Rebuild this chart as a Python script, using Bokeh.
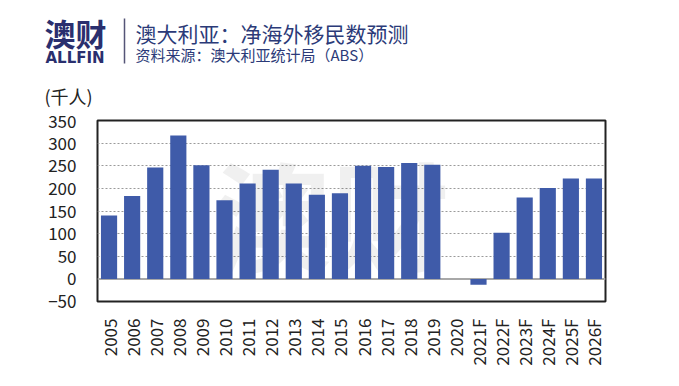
from bokeh.plotting import figure
from bokeh.layouts import column, row
from bokeh.models import FactorRange, Range1d, Label, Span, FixedTicker, ColumnDataSource
from bokeh.core.properties import value
from bokeh.embed import file_html
from bokeh.resources import INLINE

years = ["2005", "2006", "2007", "2008", "2009", "2010", "2011", "2012", "2013", "2014", "2015",
         "2016", "2017", "2018", "2019", "2020", "2021F", "2022F", "2023F", "2024F", "2025F", "2026F"]
net_migration = [140, 183, 246, 317, 251, 174, 211, 241, 211, 186, 189,
                 250, 247, 256, 252, 0, -13, 102, 180, 201, 222, 222]
y_ticks = [-50, 0, 50, 100, 150, 200, 250, 300, 350]
title = "澳大利亚：净海外移民数预测"
subtitle = "资料来源：澳大利亚统计局（ABS）"
unit = "(千人)"

CJK = "Noto Sans CJK SC"
NAVY = "#2b3a78"
LOGO = "#2a2f6e"
W, HH = 665, 114

# ---------- header ----------
h = figure(width=W, height=HH, output_backend="svg", toolbar_location=None,
           x_axis_type=None, y_axis_type=None,
           x_range=Range1d(0, W), y_range=Range1d(HH, 0), min_border=0)
h.grid.grid_line_color = None
h.outline_line_color = None


def txt(x, y, s, size, color, font=CJK, style="normal", align="left"):
    h.text(x=[x], y=[y], text=[s], text_font=value(font), text_font_size=value(size),
           text_font_style=style, text_color=color, text_baseline="middle", text_align=align)


txt(44, 32, "澳财", "31px", LOGO, style="bold")
txt(45, 57, "ALLFIN", "15px", LOGO, font="DejaVu Sans", style="bold")
h.segment(x0=[124], y0=[18], x1=[124], y1=[63], line_color="#555577", line_width=1.5)
txt(135, 32, title, "21px", NAVY)
txt(135, 54, subtitle, "15px", NAVY)
txt(44, 95, unit, "18px", "#222222")

# ---------- chart ----------
p = figure(frame_width=508, frame_height=181, output_backend="svg", toolbar_location=None,
           x_range=FactorRange(*years, range_padding=0), y_range=Range1d(-50, 350),
           min_border_left=97, min_border_top=120 - HH, min_border_right=W - 605,
           min_border_bottom=64)
p.outline_line_color = "#222222"
p.outline_line_width = 2
p.background_fill_color = "white"

# watermark (kept inside the frame)
p.add_layout(Label(x=10.15, y=150, text="澳财", text_align="center", text_baseline="middle",
                   text_font=CJK, text_font_size="118px", text_font_style="bold",
                   text_color="#000000", text_alpha=0.06, level="underlay"))

src = ColumnDataSource(dict(x=years, top=net_migration))
p.vbar(x="x", top="top", bottom=0, width=0.7, source=src, fill_color="#3f5ba9", line_color=None)
p.add_layout(Span(location=0, dimension="width", line_color="#a8a8a8", line_width=2, level="underlay"))

p.xgrid.grid_line_color = None
p.ygrid.ticker = FixedTicker(ticks=[50, 100, 150, 200, 250, 300])
p.ygrid.grid_line_color = "#9a9a9a"
p.ygrid.grid_line_dash = "2 2"
p.ygrid.grid_line_width = 1

p.yaxis.ticker = FixedTicker(ticks=y_ticks)
for ax in (p.xaxis, p.yaxis):
    ax.axis_line_color = None
    ax.major_tick_line_color = None
    ax.minor_tick_line_color = None
    ax.major_label_text_font = CJK
    ax.major_label_text_color = "#222222"
    ax.major_label_text_font_size = "17px"
p.yaxis.major_label_standoff = 15
p.xaxis.major_label_orientation = 1.5708
p.xaxis.major_label_standoff = 11

layout = column(row(h), p, spacing=0)
open("out.html", "w").write(file_html(layout, INLINE))
